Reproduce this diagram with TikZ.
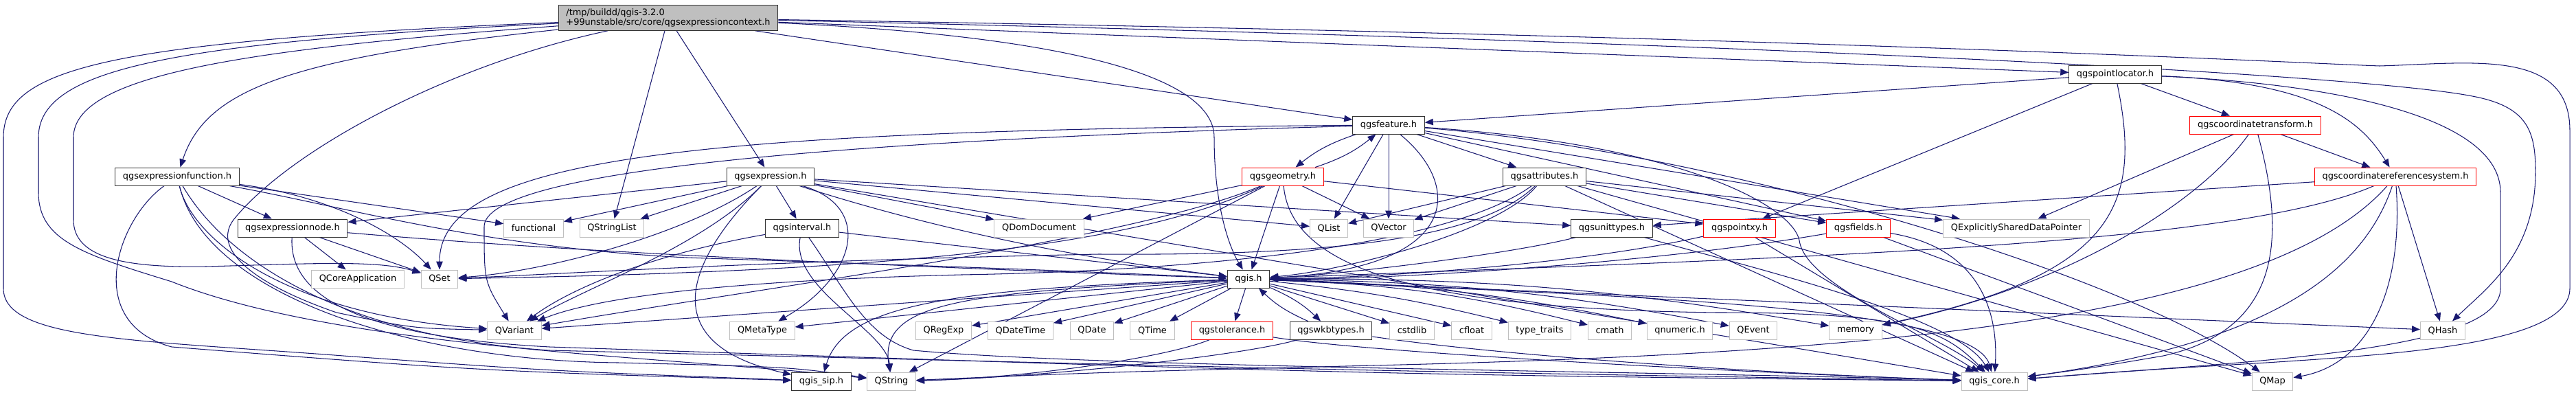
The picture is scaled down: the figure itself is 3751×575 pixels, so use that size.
\documentclass[tikz,border=0pt]{standalone}
\usepackage{fontspec}
\setmainfont{DejaVu Sans}
\usetikzlibrary{arrows.meta,backgrounds}
\definecolor{edgeblue}{HTML}{191970}
\begin{document}
\begin{tikzpicture}[x=0.25mm,y=-0.25mm,>={Triangle[length=3mm,width=2.4mm]},
 hdr/.style={draw=black!80,fill=white,line width=0.7pt,minimum height=6.5mm,inner xsep=2.8mm,inner ysep=0pt,font=\fontsize{9.2}{10.4}\selectfont},
 sys/.style={hdr,draw=black!25},
 nodoc/.style={hdr,draw=red},
 dep/.style={->,draw=edgeblue,line width=0.75pt}]
\useasboundingbox (0,0) rectangle (3751,575);
\node[hdr,fill=black!25,align=left,inner ysep=1.2mm] (ctx) at (973,26) {/tmp/buildd/qgis-3.2.0\\+99unstable/src/core/qgsexpressioncontext.h};
\node[hdr] (ploc) at (3080,108) {qgspointlocator.h};
\node[hdr] (feat) at (2022,182) {qgsfeature.h};
\node[nodoc] (ctr) at (3284,182) {qgscoordinatetransform.h};
\node[hdr] (fn) at (258,257) {qgsexpressionfunction.h};
\node[hdr] (expr) at (1122,257) {qgsexpression.h};
\node[nodoc] (geom) at (1868,257) {qgsgeometry.h};
\node[hdr] (attr) at (2249,257) {qgsattributes.h};
\node[nodoc] (crs) at (3488,257) {qgscoordinatereferencesystem.h};
\node[hdr] (enode) at (426,332) {qgsexpressionnode.h};
\node[sys] (functional) at (777,332) {functional};
\node[sys] (qsl) at (891,332) {QStringList};
\node[hdr] (intv) at (1168,332) {qgsinterval.h};
\node[sys] (qdom) at (1513,332) {QDomDocument};
\node[sys] (qlist) at (1935,332) {QList};
\node[sys] (qvec) at (2022,332) {QVector};
\node[hdr] (unit) at (2347,332) {qgsunittypes.h};
\node[nodoc] (pxy) at (2533,332) {qgspointxy.h};
\node[nodoc] (fields) at (2706,332) {qgsfields.h};
\node[sys] (qesdp) at (2936,332) {QExplicitlySharedDataPointer};
\node[sys] (qcore) at (521,406) {QCoreApplication};
\node[sys] (qset) at (640,406) {QSet};
\node[hdr] (qgis) at (1818,406) {qgis.h};
\node[sys] (qvar) at (749,481) {QVariant};
\node[sys] (qmeta) at (1110,481) {QMetaType};
\node[sys] (qregexp) at (1374,481) {QRegExp};
\node[sys] (qdt) at (1486,481) {QDateTime};
\node[sys] (qdate) at (1590,481) {QDate};
\node[sys] (qtime) at (1678,481) {QTime};
\node[nodoc] (tol) at (1794,481) {qgstolerance.h};
\node[hdr] (wkb) at (1938,481) {qgswkbtypes.h};
\node[sys] (cstdlib) at (2056,481) {cstdlib};
\node[sys] (cfloat) at (2143,481) {cfloat};
\node[sys] (typetr) at (2242,481) {type\_traits};
\node[sys] (cmath) at (2344,481) {cmath};
\node[sys] (qnum) at (2446,481) {qnumeric.h};
\node[sys] (qevent) at (2553,481) {QEvent};
\node[sys] (memory) at (2702,481) {memory};
\node[sys] (qhash) at (3557,481) {QHash};
\node[hdr] (sip) at (1196,555) {qgis\_sip.h};
\node[sys] (qstr) at (1298,555) {QString};
\node[sys] (core) at (2904,555) {qgis\_core.h};
\node[sys] (qmap) at (3309,555) {QMap};
\begin{pgfonlayer}{background}
\draw[dep] (ctx) .. controls (420,85) and (300,130) .. (fn);
\draw[dep] (ctx) .. controls (150,60) and (5,100) .. (5,200) -- (5,420) .. controls (5,495) and (200,495) .. (500,518) .. controls (800,540) .. (sip);
\draw[dep] (ctx) .. controls (250,62) and (56,100) .. (56,200) -- (56,280) .. controls (56,350) and (120,370) .. (250,410) .. controls (500,510) and (1000,520) .. (qstr);
\draw[dep] (ctx) .. controls (350,72) and (107,110) .. (107,200) -- (107,320) .. controls (107,375) and (180,390) .. (300,388) .. controls (450,384) and (550,378) .. (qset);
\draw[dep] (ctx) .. controls (650,95) and (420,220) .. (340,320) .. controls (310,360) and (360,410) .. (490,455) .. controls (600,478) .. (qvar);
\draw[dep] (ctx)--(qsl); \draw[dep] (ctx)--(expr); \draw[dep] (ctx)--(feat); \draw[dep] (ctx)--(ploc);
\draw[dep] (ctx) .. controls (1500,50) and (1768,100) .. (1768,200) .. controls (1768,300) and (1790,360) .. (qgis);
\draw[dep] (ctx) .. controls (2600,62) and (3450,110) .. (3600,140) .. controls (3680,155) and (3692,190) .. (3692,250) .. controls (3692,370) and (3620,420) .. (qhash);
\draw[dep] (ctx) .. controls (2600,52) and (3350,92) .. (3465,96) .. controls (3600,92) and (3742,70) .. (3742,190) -- (3742,420) .. controls (3742,500) and (3500,515) .. (3300,528) .. controls (3100,540) .. (core);
\draw[dep] (fn)--(enode); \draw[dep] (fn)--(functional);
\draw[dep] (fn) .. controls (480,285) and (580,340) .. (qset);
\draw[dep] (fn) .. controls (280,350) and (420,460) .. (qvar);
\draw[dep] (fn) .. controls (170,320) and (120,470) .. (250,505) .. controls (700,540) .. (sip);
\draw[dep] (fn) .. controls (330,380) and (500,490) .. (800,510) .. controls (2000,540) .. (core);
\draw[dep] (fn) .. controls (300,430) and (600,525) .. (900,528) .. controls (1150,534) .. (qstr);
\draw[dep] (fn) .. controls (500,300) and (700,360) .. (1000,375) .. controls (1500,392) .. (qgis);
\draw[dep] (enode)--(qcore); \draw[dep] (enode)--(qset);
\draw[dep] (enode) .. controls (700,355) and (1000,377) .. (qgis);
\draw[dep] (enode) .. controls (420,430) and (520,490) .. (800,505) .. controls (2000,545) .. (core);
\draw[dep] (expr)--(enode); \draw[dep] (expr)--(functional); \draw[dep] (expr)--(qsl); \draw[dep] (expr)--(intv);
\draw[dep] (expr) .. controls (1000,340) and (800,395) .. (qset);
\draw[dep] (expr) .. controls (1020,360) and (850,420) .. (qvar);
\draw[dep] (expr) .. controls (1270,300) and (1250,400) .. (qmeta);
\draw[dep] (expr)--(qdom); \draw[dep] (expr)--(qlist); \draw[dep] (expr)--(unit);
\draw[dep] (expr) .. controls (1380,340) and (1600,380) .. (qgis);
\draw[dep] (expr) .. controls (1000,380) and (950,500) .. (sip);
\draw[dep] (expr)--(core);
\draw[dep] (intv)--(qgis);
\draw[dep] (intv) .. controls (950,370) and (830,420) .. (qvar);
\draw[dep] (intv) .. controls (1150,420) and (1290,480) .. (qstr);
\draw[dep] (intv) .. controls (1230,420) and (1260,490) .. (1330,510) .. controls (1600,535) and (2400,540) .. (core);
\draw[dep] (feat) to[bend right=10] (geom); \draw[dep] (geom) to[bend right=10] (feat);
\draw[dep] (feat)--(qlist); \draw[dep] (feat)--(qvec); \draw[dep] (feat)--(attr);
\draw[dep] (feat) .. controls (2130,270) and (2130,390) .. (qgis);
\draw[dep] (feat) .. controls (1000,190) and (640,230) .. (qset);
\draw[dep] (feat) .. controls (1200,205) and (705,250) .. (705,330) .. controls (705,410) .. (qvar);
\draw[dep] (feat)--(qesdp); \draw[dep] (feat)--(fields);
\draw[dep] (feat) .. controls (2500,220) and (3100,400) .. (qmap);
\draw[dep] (feat) .. controls (2450,210) and (2610,300) .. (2620,350) .. controls (2630,420) and (2830,490) .. (core);
\draw[dep] (geom)--(qdom); \draw[dep] (geom)--(qgis); \draw[dep] (geom)--(qvec); \draw[dep] (geom)--(pxy); \draw[dep] (geom)--(qstr);
\draw[dep] (geom) .. controls (1650,360) and (1300,395) .. (qset);
\draw[dep] (geom) .. controls (1650,350) and (1100,420) .. (qvar);
\draw[dep] (geom) .. controls (1880,400) and (2100,450) .. (2500,455) .. controls (2780,455) and (2830,480) .. (core);
\draw[dep] (attr)--(qlist); \draw[dep] (attr)--(qvec);
\draw[dep] (attr) .. controls (2150,355) and (1900,372) .. (1600,370) .. controls (1100,380) and (800,400) .. (qset);
\draw[dep] (attr) .. controls (2180,340) and (1950,395) .. (qgis);
\draw[dep] (attr) .. controls (2100,365) and (1700,395) .. (1400,400) .. controls (1000,410) and (850,440) .. (qvar);
\draw[dep] (attr)--(qesdp); \draw[dep] (attr)--(fields); \draw[dep] (attr)--(qmap); \draw[dep] (attr)--(core);
\draw[dep] (unit) .. controls (2200,370) and (1950,400) .. (qgis);
\draw[dep] (unit) .. controls (2550,390) and (2850,460) .. (core);
\draw[dep] (pxy) .. controls (2300,385) and (2000,405) .. (qgis);
\draw[dep] (pxy)--(core);
\draw[dep] (fields) .. controls (2400,385) and (2000,408) .. (qgis);
\draw[dep] (fields) .. controls (2880,360) and (2910,450) .. (core);
\draw[dep] (fields)--(qmap);
\draw[dep] (qgis)--(qvar); \draw[dep] (qgis)--(qmeta); \draw[dep] (qgis)--(qregexp); \draw[dep] (qgis)--(qdt); \draw[dep] (qgis)--(qdate); \draw[dep] (qgis)--(qtime); \draw[dep] (qgis)--(tol);
\draw[dep] (qgis) to[bend left=10] (wkb); \draw[dep] (wkb) to[bend left=10] (qgis);
\draw[dep] (qgis)--(cstdlib); \draw[dep] (qgis)--(cfloat); \draw[dep] (qgis) to[bend left=4] (typetr); \draw[dep] (qgis) to[bend left=6] (cmath);
\draw[dep] (qgis) to[bend left=5] (qnum); \draw[dep] (qgis) to[bend left=5] (qevent); \draw[dep] (qgis) to[bend left=5] (memory); \draw[dep] (qgis)--(qhash);
\draw[dep] (qgis) .. controls (2300,430) and (2870,440) .. (core);
\draw[dep] (qgis) .. controls (1400,425) and (1280,440) .. (qstr);
\draw[dep] (qgis) .. controls (1400,420) and (1230,440) .. (sip);
\draw[dep] (tol) .. controls (2000,515) and (2600,545) .. (core);
\draw[dep] (tol) .. controls (1700,520) and (1500,550) .. (qstr);
\draw[dep] (wkb) .. controls (2200,520) and (2600,545) .. (core);
\draw[dep] (wkb) .. controls (1800,520) and (1500,550) .. (qstr);
\draw[dep] (ploc)--(feat); \draw[dep] (ploc)--(pxy); \draw[dep] (ploc)--(ctr);
\draw[dep] (ploc) .. controls (3380,120) and (3440,180) .. (crs);
\draw[dep] (ploc) .. controls (3120,300) and (3080,400) .. (memory);
\draw[dep] (ploc) .. controls (3400,122) and (3641,170) .. (3641,280) -- (3641,420) .. controls (3641,510) and (3300,525) .. (core);
\draw[dep] (ctr)--(crs); \draw[dep] (ctr)--(qesdp);
\draw[dep] (ctr) .. controls (3200,300) and (3000,420) .. (memory);
\draw[dep] (ctr) .. controls (3330,350) and (3320,480) .. (3150,518) .. controls (3050,535) .. (core);
\draw[dep] (crs)--(unit); \draw[dep] (crs)--(qhash);
\draw[dep] (crs) .. controls (3250,360) and (2600,375) .. (qgis);
\draw[dep] (crs) .. controls (3500,420) and (3450,530) .. (qmap);
\draw[dep] (crs) .. controls (3440,400) and (3300,500) .. (core);
\draw[dep] (crs) .. controls (3300,470) and (2700,515) .. (2000,532) .. controls (1600,542) .. (qstr);
\end{pgfonlayer}
\end{tikzpicture}
\end{document}
